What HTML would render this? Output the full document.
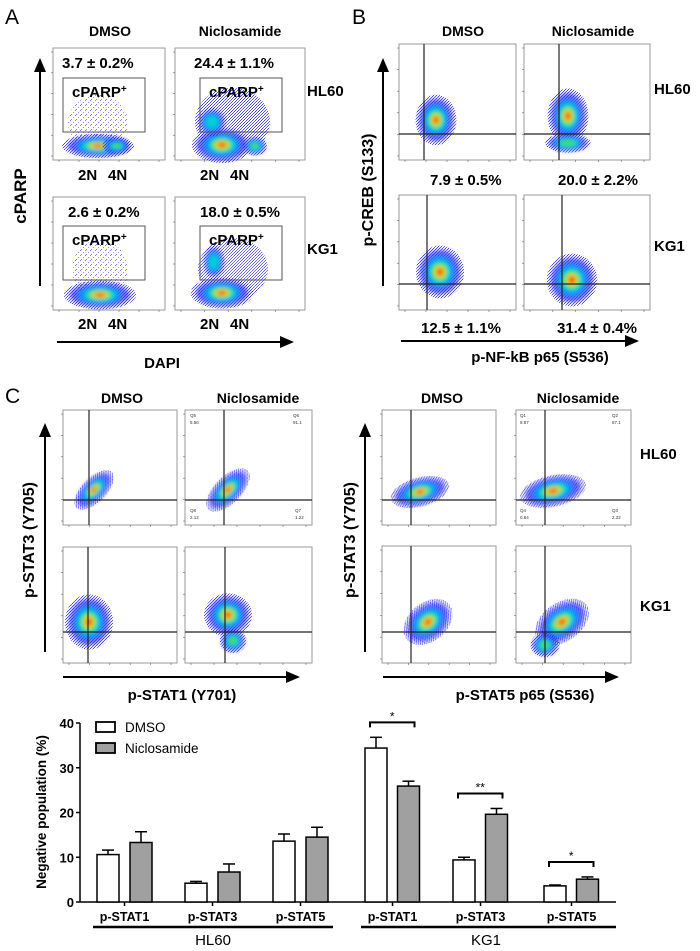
<!DOCTYPE html>
<html><head><meta charset="utf-8"><style>
body{margin:0;background:#fff}
svg{display:block;font-family:"Liberation Sans",Arial,sans-serif}
.b{font-weight:bold}
</style></head><body>
<svg id="fig" width="700" height="951" viewBox="0 0 700 951">
<defs>
<filter id="bl" x="-50%" y="-50%" width="200%" height="200%"><feGaussianBlur stdDeviation="2.2"/></filter>
<pattern id="dots" width="5" height="5" patternUnits="userSpaceOnUse"><rect x="0" y="0" width="1" height="1" fill="#2a2aff"/><rect x="3" y="2" width="1" height="1" fill="#4a4aff"/><rect x="1" y="4" width="1" height="1" fill="#2a2aff"/></pattern>
<pattern id="dots2" width="3" height="3" patternUnits="userSpaceOnUse"><rect x="0" y="0" width="1" height="1" fill="#1a1aff"/><rect x="2" y="1" width="1" height="1" fill="#3a3aff"/><rect x="1" y="2" width="1" height="1" fill="#1a1aff"/></pattern>
<marker id="ar" markerWidth="8" markerHeight="8" refX="6" refY="4" orient="auto"><path d="M0,1 L7,4 L0,7 z" fill="#000"/></marker>
</defs>
<g id="plots"></g>
<g id="labels">
<text x="5" y="24" font-size="21">A</text>
<text x="352" y="24" font-size="21">B</text>
<text x="5" y="403" font-size="21">C</text>
<text class="b" x="110" y="36" font-size="14" text-anchor="middle">DMSO</text>
<text class="b" x="240" y="36" font-size="14" text-anchor="middle">Niclosamide</text>
<text class="b" x="463" y="36" font-size="14" text-anchor="middle">DMSO</text>
<text class="b" x="593" y="36" font-size="14" text-anchor="middle">Niclosamide</text>
<text class="b" x="122" y="403" font-size="14" text-anchor="middle">DMSO</text>
<text class="b" x="258" y="403" font-size="14" text-anchor="middle">Niclosamide</text>
<text class="b" x="442" y="403" font-size="14" text-anchor="middle">DMSO</text>
<text class="b" x="578" y="403" font-size="14" text-anchor="middle">Niclosamide</text>
<text class="b" x="307" y="96" font-size="15">HL60</text>
<text class="b" x="307" y="254" font-size="15">KG1</text>
<text class="b" x="654" y="94" font-size="15">HL60</text>
<text class="b" x="654" y="251" font-size="15">KG1</text>
<text class="b" x="640" y="459" font-size="15">HL60</text>
<text class="b" x="640" y="611" font-size="15">KG1</text>
<text class="b" x="62" y="68" font-size="15">3.7 ± 0.2%</text>
<text class="b" x="194" y="68" font-size="15">24.4 ± 1.1%</text>
<text class="b" x="68" y="217" font-size="15">2.6 ± 0.2%</text>
<text class="b" x="200" y="217" font-size="15">18.0 ± 0.5%</text>
<text class="b" x="430" y="185" font-size="15">7.9 ± 0.5%</text>
<text class="b" x="558" y="185" font-size="15">20.0 ± 2.2%</text>
<text class="b" x="421" y="333" font-size="15">12.5 ± 1.1%</text>
<text class="b" x="557" y="333" font-size="15">31.4 ± 0.4%</text>
<text class="b" x="26" y="196" font-size="17" text-anchor="middle" transform="rotate(-90 26 196)">cPARP</text>
<text class="b" x="162" y="368" font-size="15" text-anchor="middle">DAPI</text>
<text class="b" x="373" y="190" font-size="16" text-anchor="middle" transform="rotate(-90 373 190)">p-CREB (S133)</text>
<text class="b" x="540" y="362" font-size="15" text-anchor="middle">p-NF-kB p65 (S536)</text>
<text class="b" x="34" y="540" font-size="16" text-anchor="middle" transform="rotate(-90 34 540)">p-STAT3 (Y705)</text>
<text class="b" x="355" y="540" font-size="16" text-anchor="middle" transform="rotate(-90 355 540)">p-STAT3 (Y705)</text>
<text class="b" x="182" y="700" font-size="15" text-anchor="middle">p-STAT1 (Y701)</text>
<text class="b" x="525" y="700" font-size="15" text-anchor="middle">p-STAT5 p65 (S536)</text>
<line x1="40" y1="286" x2="40" y2="60" stroke="#000" stroke-width="2" marker-end="url(#ar)"/>
<line x1="57" y1="342" x2="292" y2="342" stroke="#000" stroke-width="2" marker-end="url(#ar)"/>
<line x1="383" y1="286" x2="383" y2="60" stroke="#000" stroke-width="2" marker-end="url(#ar)"/>
<line x1="401" y1="341" x2="637" y2="341" stroke="#000" stroke-width="2" marker-end="url(#ar)"/>
<line x1="45" y1="652" x2="45" y2="425" stroke="#000" stroke-width="2" marker-end="url(#ar)"/>
<line x1="63" y1="677" x2="298" y2="677" stroke="#000" stroke-width="2" marker-end="url(#ar)"/>
<line x1="365" y1="652" x2="365" y2="425" stroke="#000" stroke-width="2" marker-end="url(#ar)"/>
<line x1="383" y1="677" x2="617" y2="677" stroke="#000" stroke-width="2" marker-end="url(#ar)"/>
</g>
<g id="bar"></g>
</svg>
<script>
// ---------- Bar chart data ----------
const categories = ["p-STAT1","p-STAT3","p-STAT5","p-STAT1","p-STAT3","p-STAT5"];
const cellLines = ["HL60","KG1"];
const dmsoValues = [10.6, 4.2, 13.6, 34.4, 9.4, 3.6];
const dmsoErrors = [1.0, 0.4, 1.6, 2.4, 0.6, 0.2];
const nicValues = [13.3, 6.7, 14.5, 25.9, 19.6, 5.1];
const nicErrors = [2.4, 1.8, 2.2, 1.1, 1.3, 0.5];
const yTicks = [0, 10, 20, 30, 40];
const sigLabels = ["", "", "", "*", "**", "*"];

const NS = "http://www.w3.org/2000/svg";
function mk(tag, attrs, parent){const e=document.createElementNS(NS,tag);for(const k in attrs)e.setAttribute(k,attrs[k]);parent.appendChild(e);return e;}

// ---------- Flow plots ----------
const plots = document.getElementById('plots');
const COLS=['#2a2aff','#0090ff','#00d8d0','#40e060','#e8e820','#ff7000','#ff1a00'];
const SC=[1,0.72,0.55,0.42,0.3,0.2,0.11];
function blob(g,cx,cy,rx,ry,rot,strength){
  const bg=mk('g',{transform:`rotate(${rot} ${cx} ${cy})`},g);
  
  
  mk('ellipse',{cx,cy,rx:rx*1.2,ry:ry*1.2,fill:'url(#dots2)',opacity:0.8},bg);
  const inner=mk('g',{filter:'url(#bl)'},bg);
  const n=Math.round(COLS.length*strength);
  for(let i=0;i<n;i++){mk('ellipse',{cx,cy,rx:rx*SC[i],ry:ry*SC[i],fill:COLS[i],opacity:i==0?0.7:0.9},inner);}
}
function frame(x1,y1,x2,y2,name){
  const r=mk('rect',{x:x1,y:y1,width:x2-x1,height:y2-y1,fill:'none',stroke:'#999','stroke-width':1},plots);
  
  
  for(let i=0;i<6;i++){const y=y1+4+i*(y2-y1-8)/5;mk('line',{x1:x1-2,y1:y,x2:x1,y2:y,stroke:'#666','stroke-width':0.6},plots);}
  for(let i=0;i<6;i++){const x=x1+6+i*(x2-x1-12)/5;mk('line',{x1:x,y1:y2,x2:x,y2:y2+2,stroke:'#666','stroke-width':0.6},plots);}
}
function cross(x1,y1,x2,y2,vx,hy){
  const g=mk('g',{stroke:'#222','stroke-width':1.2},plots);
  
  
  mk('line',{x1:vx,y1:y1,x2:vx,y2:y2},g);mk('line',{x1:x1,y1:hy,x2:x2,y2:hy},g);
}
function scatter(g,x1,y1,x2,y2,pat,op){const e=mk('ellipse',{cx:(x1+x2)/2,cy:(y1+y2)/2,rx:(x2-x1)/2,ry:(y2-y1)/2,fill:pat,opacity:op},g);}
// Panel A
frame(53,48,165,160,'a-hl60-dmso-plot');frame(175,48,305,160,'a-hl60-nic-plot');
frame(53,197,165,310,'a-kg1-dmso-plot');frame(175,197,305,310,'a-kg1-nic-plot');
scatter(plots,68,95,128,150,'url(#dots)',0.6);
scatter(plots,195,88,270,155,'url(#dots2)',0.8);
scatter(plots,72,240,128,300,'url(#dots)',0.6);
scatter(plots,198,238,268,300,'url(#dots2)',0.7);
blob(plots,98,146,30,10,0,1);blob(plots,117,146,12,7,0,0.5);
blob(plots,222,145,25,15,0,1);blob(plots,255,146,10,8,0,0.55);blob(plots,212,122,12,12,0,0.4);
blob(plots,100,295,30,12,0,1);
blob(plots,222,293,26,13,0,1);blob(plots,214,262,9,14,0,0.45);
for(const [x,y] of [[63,78],[200,78],[63,226],[200,226]]){
  const r=mk('rect',{x,y,width:82,height:54,fill:'none',stroke:'#555','stroke-width':1},plots);
  
  
  const t=mk('text',{x:x+9,y:y+19,'font-size':15,'font-weight':'bold'},plots);
  t.textContent='cPARP';const s=mk('tspan',{dy:-5,'font-size':10},t);s.textContent='+';
  
  
}
for(const [x,y] of [[78,180],[200,180],[78,329],[200,329]]){
  const t=mk('text',{x,y,'font-size':15,'font-weight':'bold'},plots);t.textContent='2N';
  
  
  const t2=mk('text',{x:x+30,y,'font-size':15,'font-weight':'bold'},plots);t2.textContent='4N';
  
  
}
// Panel B
frame(399,44,516,160,'b-hl60-dmso-plot');frame(524,44,650,160,'b-hl60-nic-plot');
frame(399,195,516,310,'b-kg1-dmso-plot');frame(524,195,650,310,'b-kg1-nic-plot');
blob(plots,436,120,17,21,0,1);blob(plots,568,116,17,23,0,1);blob(plots,568,143,19,8,0,0.6);
blob(plots,440,272,20,22,0,1);blob(plots,572,280,21,22,0,1);
cross(399,44,516,160,424,134);cross(524,44,650,160,559,134);
cross(399,195,516,310,427,284);cross(524,195,650,310,562,284);
// Panel C left
frame(63,410,177,525,'c-hl60-dmso-stat1-plot');frame(185,410,312,525,'c-hl60-nic-stat1-plot');
frame(63,547,177,663,'c-kg1-dmso-stat1-plot');frame(185,547,312,663,'c-kg1-nic-stat1-plot');
blob(plots,94,490,21,10,-45,1);blob(plots,228,490,23,11,-45,1);
blob(plots,89,622,20,23,0,1);blob(plots,228,615,20,18,0,1);blob(plots,233,641,11,10,0,0.6);
cross(63,410,177,525,89,500);cross(185,410,312,525,224,500);
cross(63,547,177,663,88,632);cross(185,547,312,663,225,632);
// Panel C right
frame(382,410,496,525,'c-hl60-dmso-stat5-plot');frame(516,410,631,525,'c-hl60-nic-stat5-plot');
frame(382,546,496,663,'c-kg1-dmso-stat5-plot');frame(516,546,631,663,'c-kg1-nic-stat5-plot');
blob(plots,420,492,25,12,-15,1);blob(plots,553,491,28,13,-12,1);
blob(plots,428,622,23,16,-40,1);blob(plots,562,622,25,16,-35,1);blob(plots,545,645,12,10,0,0.5);
cross(382,410,496,525,411,500);cross(516,410,631,525,545,500);
cross(382,546,496,663,411,632);cross(516,546,631,663,545,632);
for(const [x,y,s] of [[190,417,'Q5'],[190,424,'5.56'],[293,417,'Q6'],[293,424,'91.1'],[190,512,'Q8'],[190,519,'2.12'],[295,512,'Q7'],[295,519,'1.22'],
  [520,417,'Q1'],[520,424,'9.87'],[612,417,'Q2'],[612,424,'87.1'],[520,512,'Q4'],[520,519,'0.84'],[612,512,'Q3'],[612,519,'2.22']]){
  const t=mk('text',{x,y,'font-size':4.5,fill:'#333'},plots);t.textContent=s;
  
  
}

// ---------- Bar chart ----------
const bar=document.getElementById('bar');
const Y0=902, PXU=(902-723)/40, AX=80;
const yScale=v=>Y0-v*PXU;
const groupStart=[97,185,273,365,453,544];
const BW=22, GAP=11;
function xD(i){return groupStart[i];}
function xN(i){return groupStart[i]+BW+GAP+(i>2?-0.5:0);}
const ya=mk('line',{x1:AX,y1:yScale(40),x2:AX,y2:Y0,stroke:'#000','stroke-width':1.5},bar);

const xa=mk('line',{x1:AX,y1:Y0,x2:616,y2:Y0,stroke:'#000','stroke-width':1.5},bar);

yTicks.forEach(v=>{
  mk('line',{x1:AX-4,y1:yScale(v),x2:AX,y2:yScale(v),stroke:'#000','stroke-width':1.5},bar);
  const t=mk('text',{x:AX-6,y:yScale(v)+5,'font-size':13,'font-weight':'bold','text-anchor':'end'},bar);
  t.textContent=v;
  
  
});
const yt=mk('text',{x:46,y:812,'font-size':13.5,'font-weight':'bold','text-anchor':'middle',transform:'rotate(-90 46 812)'},bar);
yt.textContent='Negative population (%)';

function drawBar(x,v,e,fill,name){
  const top=yScale(v);
  mk('line',{x1:x+BW/2,y1:top,x2:x+BW/2,y2:yScale(v+e),stroke:'#000','stroke-width':1.5},bar);
  mk('line',{x1:x+BW/2-6,y1:yScale(v+e),x2:x+BW/2+6,y2:yScale(v+e),stroke:'#000','stroke-width':1.5},bar);
  const r=mk('rect',{x,y:top,width:BW,height:Y0-top,fill,stroke:'#000','stroke-width':1.5},bar);
  
  
}
categories.forEach((c,i)=>{
  drawBar(xD(i),dmsoValues[i],dmsoErrors[i],'#fff','bar-dmso-'+i);
  drawBar(xN(i),nicValues[i],nicErrors[i],'#a0a0a0','bar-niclosamide-'+i);
  const cx=xD(i)+(BW*2+GAP)/2;
  mk('line',{x1:cx,y1:Y0,x2:cx,y2:Y0+4,stroke:'#000','stroke-width':1.5},bar);
  const t=mk('text',{x:cx,y:921,'font-size':12.5,'font-weight':'bold','text-anchor':'middle'},bar);
  t.textContent=c;
  
  
  if(sigLabels[i]){
    const top=Math.max(dmsoValues[i]+dmsoErrors[i],nicValues[i]+nicErrors[i]);
    const by=yScale(top)-15, x1=xD(i)+BW/2-6, x2=xN(i)+BW/2+6;
    const p=mk('path',{d:`M${x1},${by+5} L${x1},${by} L${x2},${by} L${x2},${by+5}`,fill:'none',stroke:'#000','stroke-width':2},bar);
    
    const s=mk('text',{x:(x1+x2)/2,y:by-2,'font-size':12,'text-anchor':'middle'},bar);
    s.textContent=sigLabels[i];
    
  }
});
[[93,333,213,cellLines[0]],[361,616,486,cellLines[1]]].forEach(([a,b,c,n])=>{
  const l=mk('line',{x1:a,y1:927,x2:b,y2:927,stroke:'#000','stroke-width':2.5},bar);
  
  const t=mk('text',{x:c,y:945,'font-size':15,'text-anchor':'middle'},bar);t.textContent=n;
  
});
[['DMSO','#fff',727],['Niclosamide','#a0a0a0',748]].forEach(([n,f,y])=>{
  const r=mk('rect',{x:96,y:y-5,width:19,height:10,fill:f,stroke:'#000','stroke-width':1.8},bar);
  
  const t=mk('text',{x:125,y:y+5,'font-size':13.5},bar);t.textContent=n;
  
});
</script>
</body></html>
